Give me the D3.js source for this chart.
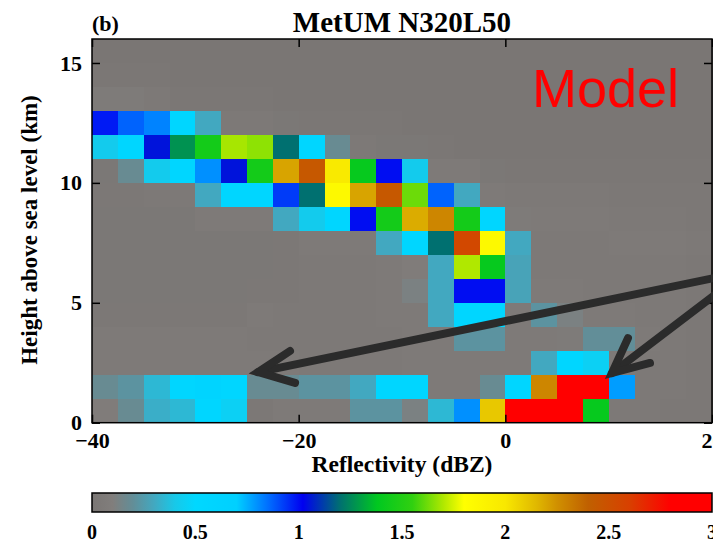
<!DOCTYPE html>
<html><head><meta charset="utf-8">
<script src="https://cdn.jsdelivr.net/npm/d3@7"></script>
<style>body{margin:0;background:#fff;overflow:hidden} svg{display:block}</style>
</head><body>
<svg id="c" width="713" height="545"></svg>
<script>
// ---- DATA ----
// reflectivity bin lower edges (dBZ), bin width 2.5
const reflBins = [-40,-37.5,-35,-32.5,-30,-27.5,-25,-22.5,-20,-17.5,-15,-12.5,-10,-7.5,-5,-2.5,0,2.5,5,7.5,10,12.5,15,17.5];
const reflStep = 2.5;
// height bin lower edges (km), bin width 1
const heightBins = [15,14,13,12,11,10,9,8,7,6,5,4,3,2,1,0];
const heightStep = 1;
// frequency (%) per cell, one row per height bin (top to bottom)
const row15 = [0,0,0,0,0,0,0,0,0,0,0,0,0,0,0,0,0,0,0,0,0,0,0,0];
const row14 = [0.01,0.01,0.01,0,0,0,0,0,0,0,0,0,0,0,0,0,0,0,0,0,0,0,0,0];
const row13 = [0.06,0.06,0.04,0.01,0.01,0.01,0.01,0,0,0,0,0,0,0,0,0,0,0,0,0,0,0,0,0];
const row12 = [0.98,0.87,0.82,0.55,0.3,0.04,0.04,0.02,0.01,0.01,0.01,0.01,0,0,0,0,0,0,0,0,0,0,0,0];
const row11 = [0.42,0.55,1.05,1.27,1.45,1.69,1.66,1.2,0.55,0.18,0.04,0.02,0.02,0.01,0,0,0,0,0,0,0,0,0,0];
const row10 = [0.02,0.18,0.42,0.55,0.8,1.05,1.45,2.2,2.45,1.98,1.4,1.0,0.42,0.05,0.05,0.02,0.01,0.01,0.01,0.01,0.01,0.01,0.01,0.01];
const row9  = [0.03,0.03,0.04,0.04,0.3,0.55,0.55,0.93,1.2,1.85,2.2,2.45,1.62,0.87,0.3,0.05,0.04,0.04,0.04,0.04,0.03,0.03,0.03,0.03];
const row8  = [0.02,0.02,0.02,0.02,0.05,0.05,0.05,0.3,0.42,0.55,1.0,1.45,2.18,2.28,1.45,0.55,0.06,0.05,0.05,0.05,0.04,0.04,0.04,0.03];
const row7  = [0.02,0.02,0.02,0.02,0.02,0.02,0.02,0.03,0.05,0.05,0.05,0.3,0.55,1.2,2.55,1.85,0.3,0.04,0.04,0.04,0.05,0.05,0.05,0.04];
const row6  = [0.02,0.02,0.02,0.02,0.02,0.02,0.02,0.03,0.04,0.04,0.04,0.05,0.08,0.3,1.7,1.4,0.28,0.04,0.04,0.04,0.04,0.04,0.04,0.03];
const row5  = [0.02,0.02,0.02,0.02,0.02,0.02,0.03,0.03,0.04,0.04,0.04,0.05,0.12,0.3,1.0,1.0,0.28,0.05,0.05,0.04,0.04,0.04,0.04,0.03];
const row4  = [0.03,0.03,0.03,0.03,0.03,0.03,0.05,0.04,0.04,0.04,0.04,0.05,0.05,0.3,0.55,0.55,0.05,0.22,0.12,0.05,0.05,0.04,0.04,0.03];
const row3  = [0.05,0.05,0.05,0.05,0.05,0.05,0.04,0.04,0.04,0.04,0.04,0.04,0.05,0.05,0.22,0.22,0.05,0.05,0.06,0.2,0.2,0.05,0.04,0.03];
const row2  = [0.05,0.05,0.05,0.05,0.05,0.05,0.05,0.05,0.04,0.04,0.04,0.04,0.05,0.05,0.05,0.05,0.05,0.3,0.55,0.45,0.05,0.04,0.04,0.03];
const row1  = [0.18,0.22,0.35,0.55,0.6,0.55,0.18,0.18,0.22,0.22,0.3,0.55,0.55,0.05,0.05,0.18,0.55,2.28,2.9,2.9,0.78,0.04,0.04,0.03];
const row0  = [0.08,0.18,0.32,0.35,0.55,0.45,0.03,0.05,0.05,0.05,0.22,0.22,0.12,0.35,0.8,2.1,2.9,2.9,2.9,1.4,0.04,0.04,0.03,0.03];
const freqRows = [row15,row14,row13,row12,row11,row10,row9,row8,row7,row6,row5,row4,row3,row2,row1,row0];

const xTicks = [-40,-20,0,20];
const yTicks = [0,5,10,15];
const cbTicks = [0,0.5,1,1.5,2,2.5,3];
const cbTickLabels = ["0","0.5","1","1.5","2","2.5","3"];

// colour map stops
const cmapVals = [0,0.1,0.2,0.3,0.4,0.5,0.7,0.85,1.02,1.2,1.38,1.55,1.7,1.8,2.0,2.15,2.25,2.4,2.6,2.8,3.0];
const cmapCols = ["#7a7674","#817e7c","#628e98","#42a8c0","#18c8e8","#00d8ff","#00d0ff","#0070ff","#0000f0","#007070","#00c820","#30d010","#b0e800","#ffff00","#f8e800","#e0b800","#d09000","#c06000","#d84000","#ff0000","#ff0000"];

// annotation arrows (data coordinates): start, tip, two arms
const arrow1 = {start:[20.75,6.08], tip:[-23.93,2.11], arm1:[-20.84,2.99], arm2:[-20.35,1.66]};
const arrow2 = {start:[20.75,5.49], tip:[10.32,2.07], arm1:[11.87,3.53], arm2:[14.0,2.49]};

// ---- DRAW ----
const svg = d3.select("#c");
const L = 92, R = 712, T = 39, B = 422.7;
const x = d3.scaleLinear().domain([-40,20]).range([L,R]);
const y = d3.scaleLinear().domain([0,16]).range([B,T]);
const color = d3.scaleLinear().domain(cmapVals).range(cmapCols).clamp(true);
const serif = "'Liberation Serif','Times New Roman',serif";

const cells = [];
freqRows.forEach((row,i)=>row.forEach((v,j)=>cells.push({x0:reflBins[j], y0:heightBins[i], v})));

const plot = svg.append("g");
plot.selectAll("rect.cell").data(cells).join("rect")
  .attr("class","cell")
  .attr("x", d=>x(d.x0))
  .attr("y", d=>y(d.y0+heightStep))
  .attr("width", d=>x(d.x0+reflStep)-x(d.x0)+0.5)
  .attr("height", d=>y(d.y0)-y(d.y0+heightStep)+0.5)
  .attr("fill", d=>color(d.v))
  .attr("shape-rendering","crispEdges");

// axes
function styleAxis(g){
  g.select(".domain").remove();
  g.selectAll(".tick line").attr("stroke","#000").attr("stroke-width",1.5);
  g.selectAll("text").attr("font-family",serif).attr("font-weight","bold").attr("font-size",22).attr("fill","#000");
}
svg.append("g").attr("transform",`translate(0,${B})`)
  .call(d3.axisBottom(x).tickValues(xTicks).tickSizeInner(-8).tickSizeOuter(0).tickPadding(10)).call(styleAxis);
svg.append("g").attr("transform",`translate(0,${T})`)
  .call(d3.axisTop(x).tickValues(xTicks).tickSizeInner(-8).tickSizeOuter(0).tickFormat("")).call(styleAxis);
svg.append("g").attr("transform",`translate(${L},0)`)
  .call(d3.axisLeft(y).tickValues(yTicks).tickSizeInner(-8).tickSizeOuter(0).tickPadding(10)).call(styleAxis);
svg.append("g").attr("transform",`translate(${R},0)`)
  .call(d3.axisRight(y).tickValues(yTicks).tickSizeInner(-8).tickSizeOuter(0).tickFormat("")).call(styleAxis);

svg.append("rect").attr("x",L).attr("y",T).attr("width",R-L).attr("height",B-T)
  .attr("fill","none").attr("stroke","#000").attr("stroke-width",1.5);

// titles
svg.append("text").attr("x",402).attr("y",32).attr("text-anchor","middle")
  .attr("font-family",serif).attr("font-weight","bold").attr("font-size",29).text("MetUM N320L50");
svg.append("text").attr("x",92).attr("y",31)
  .attr("font-family",serif).attr("font-weight","bold").attr("font-size",22).text("(b)");
svg.append("text").attr("transform","translate(37,230) rotate(-90)").attr("text-anchor","middle")
  .attr("font-family",serif).attr("font-weight","bold").attr("font-size",23).text("Height above sea level (km)");
svg.append("text").attr("x",402).attr("y",472).attr("text-anchor","middle")
  .attr("font-family",serif).attr("font-weight","bold").attr("font-size",23.5).text("Reflectivity (dBZ)");

// Model label
svg.append("text").attr("x",532).attr("y",107)
  .attr("font-family","'Liberation Sans',Arial,sans-serif").attr("font-size",54).attr("fill","#ff0000").text("Model");

// arrows
const line = d3.line().x(d=>x(d[0])).y(d=>y(d[1]));
[arrow1, arrow2].forEach(a=>{
  svg.append("path").attr("d", line([a.start, a.tip])).attr("fill","none")
    .attr("stroke","#2b2b2b").attr("stroke-width",8).attr("stroke-linecap","round");
  svg.append("path").attr("d", line([a.arm1, a.tip, a.arm2])).attr("fill","none")
    .attr("stroke","#2b2b2b").attr("stroke-width",8).attr("stroke-linecap","round").attr("stroke-linejoin","miter");
});

// colour bar
const cbx = d3.scaleLinear().domain([0,3]).range([L,R]);
const cbTop = 493, cbH = 19;
const grad = svg.append("defs").append("linearGradient").attr("id","cb")
  .attr("x1","0%").attr("x2","100%").attr("y1","0%").attr("y2","0%");
cmapVals.forEach((v,i)=>grad.append("stop").attr("offset",(v/3*100)+"%").attr("stop-color",cmapCols[i]));
svg.append("rect").attr("x",cbx(0)).attr("y",cbTop).attr("width",cbx(3)-cbx(0)).attr("height",cbH)
  .attr("fill","url(#cb)").attr("stroke","#000").attr("stroke-width",1.5);
svg.append("g").selectAll("text").data(cbTicks).join("text")
  .attr("x",d=>cbx(d)).attr("y",539).attr("text-anchor","middle")
  .attr("font-family",serif).attr("font-weight","bold").attr("font-size",20)
  .text((d,i)=>cbTickLabels[i]);
</script>
</body></html>
